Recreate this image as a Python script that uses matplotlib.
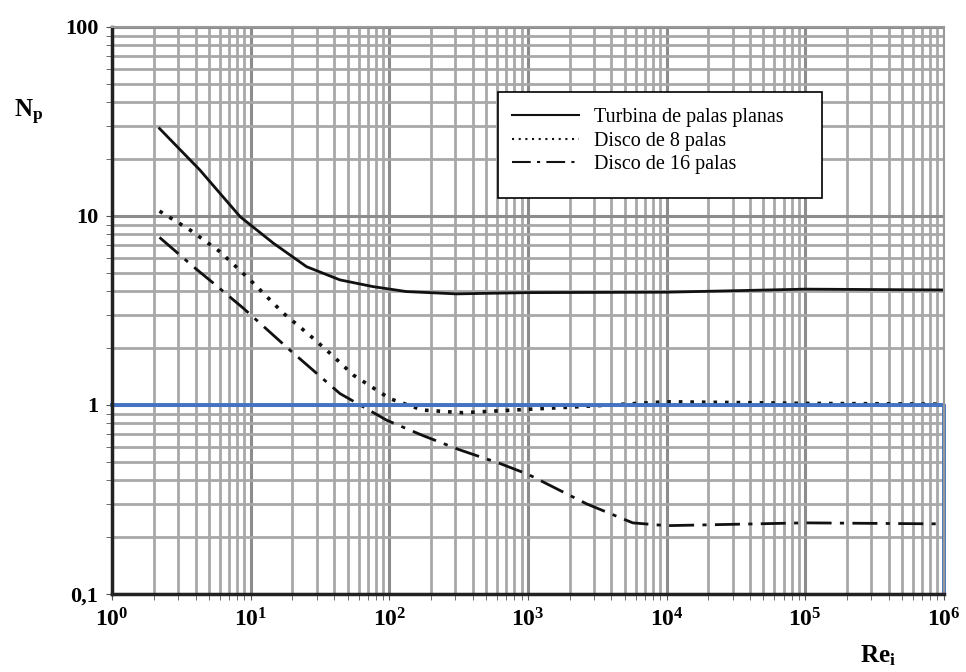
import matplotlib
matplotlib.use("Agg")
import matplotlib.pyplot as plt
from matplotlib.patches import Rectangle
from matplotlib.ticker import LogLocator, NullFormatter

plt.rcParams['font.family'] = ['Liberation Serif', 'DejaVu Serif']
plt.rcParams['mathtext.fontset'] = 'custom'
plt.rcParams['mathtext.rm'] = 'Liberation Serif'
plt.rcParams['mathtext.bf'] = 'Liberation Serif:bold'
plt.rcParams['mathtext.it'] = 'Liberation Serif:italic'

# data
re_turbina = [2.2, 4.3, 8.4, 14.6, 25.3, 44, 76, 133, 305, 1000, 1e4, 1e5, 1e6]
np_turbina = [29, 17.5, 9.9, 7.17, 5.39, 4.59, 4.23, 3.98, 3.87, 3.93, 3.95, 4.1, 4.06]

re_disco8 = [2.2, 3.65, 6.0, 9.9, 17.2, 26.8, 37.3, 55, 101, 174, 340, 780, 2370, 1e4, 1e5, 1e6]
np_disco8 = [10.6, 8.43, 6.47, 4.59, 3.06, 2.33, 1.88, 1.44, 1.08, 0.94, 0.91, 0.94, 0.98, 1.04, 1.02, 1.01]

re_disco16 = [2.2, 3.86, 5.4, 8.85, 19.2, 44, 96, 174, 320, 630, 1000, 2650, 5700, 1e4, 1e5, 1e6]
np_disco16 = [7.7, 5.39, 4.4, 3.25, 1.95, 1.15, 0.83, 0.69, 0.58, 0.49, 0.43, 0.30, 0.238, 0.23, 0.238, 0.235]

# blue reference frame (Np = 1, Re = 1e6)
re_ref = [1, 1e6, 1e6]
np_ref = [1, 1, 0.1]

labels = ['Turbina de palas planas', 'Disco de 8 palas', 'Disco de 16 palas']
xtick_vals = [1, 10, 100, 1e3, 1e4, 1e5, 1e6]
xtick_labels = [r'$\mathbf{10^{%d}}$' % k for k in range(7)]
ytick_vals = [0.1, 1, 10, 100]
ytick_labels = ['0,1', '1', '10', '100']

fig = plt.figure(figsize=(9.66, 6.72), dpi=100)
ax = fig.add_axes([0.116, 0.116, 0.861, 0.844])
ax.set_xscale('log')
ax.set_yscale('log')
ax.set_xlim(1, 1e6)
ax.set_ylim(0.1, 100)

# graph-paper grid
ax.xaxis.set_minor_locator(LogLocator(base=10, subs=range(2, 10), numticks=20))
ax.yaxis.set_minor_locator(LogLocator(base=10, subs=range(2, 10), numticks=20))
ax.xaxis.set_minor_formatter(NullFormatter())
ax.yaxis.set_minor_formatter(NullFormatter())
ax.grid(True, which='major', color='#8c8c8c', lw=2.2)
ax.grid(True, which='minor', color='#a8a8a8', lw=2.0)
ax.set_axisbelow(True)

ax.plot(re_turbina, np_turbina, color='#111111', lw=2, label=labels[0])
ax.plot(re_disco8, np_disco8, color='#111111', lw=2.6, ls=(0, (1, 2.2)), label=labels[1])
ax.plot(re_disco16, np_disco16, color='#111111', lw=2, ls=(0, (9, 3, 1.5, 3)), label=labels[2])
ax.plot(re_ref, np_ref, color='#4472C4', lw=2.8, clip_on=False)

ax.set_xticks(xtick_vals)
ax.set_xticklabels(xtick_labels, fontsize=17)
ax.set_yticks(ytick_vals)
ax.set_yticklabels(ytick_labels, fontsize=16, fontweight='bold')
ax.tick_params(which='both', length=4, color='#555555', pad=6)

for side in ['left', 'bottom']:
    ax.spines[side].set_color('#222222')
    ax.spines[side].set_linewidth(2.5)
for side in ['top', 'right']:
    ax.spines[side].set_color('#999999')
    ax.spines[side].set_linewidth(1.5)

# legend box
ax.add_patch(Rectangle((0.464, 0.698), 0.389, 0.187, transform=ax.transAxes,
                       facecolor='white', edgecolor='black', lw=1.2, zorder=5))
leg = ax.legend(loc='upper left', bbox_to_anchor=(0.481, 0.857), frameon=False,
                fontsize=14.5, handlelength=3.3, handletextpad=0.75, labelspacing=0.22,
                borderpad=0, borderaxespad=0)
leg.set_zorder(6)
for h in leg.get_lines():
    h.set_linewidth(1.5)

fig.text(0.014, 0.826, r'$\mathbf{N_p}$', fontsize=18)
fig.text(0.89, 0.015, r'$\mathbf{Re_i}$', fontsize=18)

fig.savefig('out.png', dpi=100)
